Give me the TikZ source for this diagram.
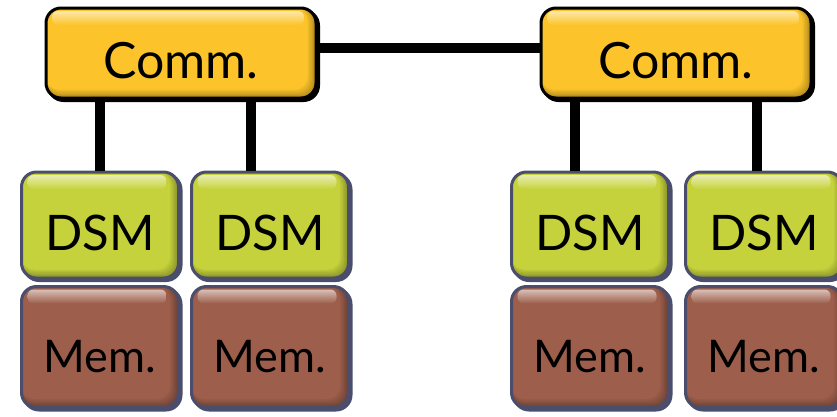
\documentclass[tikz,border=0pt]{standalone}
\usepackage{fontspec}
\setmainfont{Lato}
\usetikzlibrary{shadows,calc}

\definecolor{commfill}{HTML}{FCC42A}
\definecolor{dsmfill}{HTML}{C6D23C}
\definecolor{memfill}{HTML}{9D5F4B}
\definecolor{slate}{HTML}{4A4E6C}

\tikzset{
  tile/.style n args={2}{
    rectangle, rounded corners=15pt, fill=#1!70!black, draw=#2, line width=3pt,
    general shadow={shadow xshift=2.5pt, shadow yshift=-2.5pt, fill=#2, draw=#2, line width=3pt},
    path picture={
      % soft darker bevel along the right and bottom edges
      \foreach \k in {1,...,6}{
        \pgfmathsetmacro{\mix}{70+5*\k}
        \fill[#1!\mix!black, rounded corners=13pt]
          (path picture bounding box.north west) rectangle
          ([xshift=-1.4*\k pt, yshift=1.4*\k pt]path picture bounding box.south east);
      }
      % glossy highlight along the top edge
      \shade[top color=white!60!#1, bottom color=#1, rounded corners=6pt]
        ([xshift=6pt,yshift=-3pt]path picture bounding box.north west) rectangle
        ([xshift=-12pt,yshift=-17pt]path picture bounding box.north east);
    },
    text height=50pt, text depth=0pt, inner sep=0pt
  },
  comm/.style={tile={commfill}{black}, minimum width=270pt, minimum height=90pt, font=\fontsize{50}{50}\selectfont},
  dsm/.style={tile={dsmfill}{slate}, minimum width=157pt, minimum height=106pt, font=\fontsize{49}{49}\selectfont},
  mem/.style={tile={memfill}{slate}, minimum width=157pt, minimum height=121pt, font=\fontsize{45}{45}\selectfont},
  wire/.style={line width=10pt, black}
}

\begin{document}
\begin{tikzpicture}[x=1pt, y=-1pt]
  \useasboundingbox (0,0) rectangle (837,416);

  % communication units
  \node[comm] (commL) at (181,53) {Comm.};
  \node[comm] (commR) at (676,53) {Comm.};

  % DSM layers
  \node[dsm] (dsm1) at (100,225) {DSM};
  \node[dsm] (dsm2) at (270,225) {DSM};
  \node[dsm] (dsm3) at (590,225) {DSM};
  \node[dsm] (dsm4) at (764,225) {DSM};

  % memories
  \node[mem] (mem1) at (100,347) {Mem.};
  \node[mem] (mem2) at (270,347) {Mem.};
  \node[mem] (mem3) at (590,347) {Mem.};
  \node[mem] (mem4) at (764,347) {Mem.};

  % attachment points of the vertical links
  \coordinate (t1) at (100,0);
  \coordinate (t2) at (251,0);
  \coordinate (t3) at (575,0);
  \coordinate (t4) at (757,0);

  % links
  \draw[wire] ([yshift=5pt]commL.east) -- ([yshift=5pt]commR.west);
  \draw[wire] (commL.south -| t1) -- (dsm1.north -| t1);
  \draw[wire] (commL.south -| t2) -- (dsm2.north -| t2);
  \draw[wire] (commR.south -| t3) -- (dsm3.north -| t3);
  \draw[wire] (commR.south -| t4) -- (dsm4.north -| t4);
\end{tikzpicture}
\end{document}
